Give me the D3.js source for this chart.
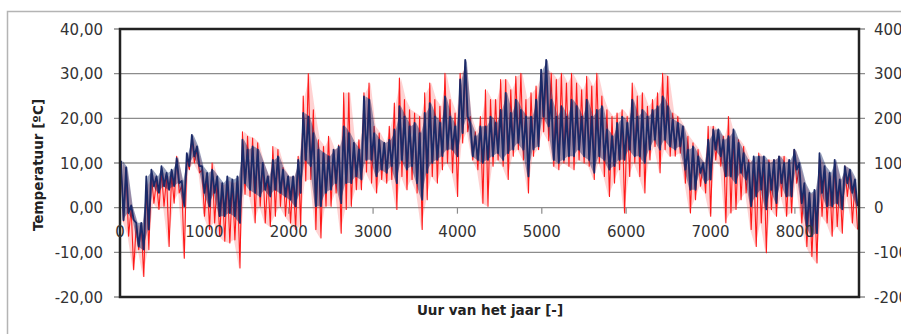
<!DOCTYPE html>
<html lang='nl'>
<head>
	<meta charset='utf-8'>
	<script type='text/javascript' src='https://d3js.org/d3.v7.min.js'></script>
	<style type='text/css'>
		body { margin:0; background:#fff; }
		.tick-label { font-family:'DejaVu Sans'; font-size:15px; fill:#333; }
		.axis-title { font-family:'DejaVu Sans'; font-weight:bold; font-size:13.5px; fill:#222; }
	</style>
</head>
<body>
	<div id='chart'></div>
	<script type='text/javascript'>
		// hours per reading bin; each bin holds the highest and lowest value
		var binHours = 60;

		// dark blue series (deg C), high / low per bin
		var navyHigh = [10.5,9,0.5,-3.4,-3.4,7,8.5,7,9.3,7.8,8.5,11.1,6,12.2,16.3,13.7,9.3,7.8,8.5,7,5.5,7,6.3,7,15.2,
			13,13.7,13,10,7,10.7,11.5,8.5,7,7,10.7,21.2,20.4,16.7,13,12.2,11.5,13,13.7,18.2,16.7,14.5,13,24.9,
			24.2,16.7,15.2,14.5,15.2,17.5,22.7,20.4,18.2,19,16.7,21.2,23.4,20.4,19,24.9,20.4,18.2,28.7,33.1,19,16,18.2,18.2,20.4,
			19,21.9,25.7,21.2,24.2,21.9,20.4,20.4,24.2,30.9,33.1,24.2,20.4,22.7,20.4,24.2,22.7,20.4,24.2,20.4,21.9,22.7,17.5,16,19,
			20.4,19,24.2,20.4,21.9,20.4,21.9,22.7,24.9,22.7,19.7,19,18.2,13,13.7,11.5,10,15.2,17.5,17.5,15.2,16,17.5,14.5,
			12.2,10,11.5,11.5,11.5,10,10.7,11.5,10,10.7,13,10,5.5,3.3,4,12.2,9.3,7.8,10.7,6.3,9.3,8.5,6.3];
		var navyLow = [-2.8,-1.2,-2.7,-8.7,-9.4,-4.9,4.8,3.3,4.8,4,4.8,5.5,0.3,9.3,11.5,9.3,3.3,0.3,3.3,-1.9,-1.9,-1.2,-1.9,-3.4,5.5,
			4,3.3,2.5,4,2.5,4,3.3,2.5,1.8,0.3,3.3,10.7,9.3,0.3,0.3,3.3,4,5.5,1,5.5,5.5,7,6.3,10.7,
			10.7,7,8.5,7.8,9.3,5.5,10.7,8.5,9.3,5.5,1.8,7.8,10,10.7,11.5,13,13,11.5,16.7,20.4,11.5,10.7,10,10.7,11.5,
			12.2,10.7,12.2,13,14.5,13,7,13,13.7,20.4,18.2,10.7,10,10.7,11.5,11.5,13,11.5,10.7,7.8,11.5,10.7,8.5,9.3,10.7,
			10.7,13,11.5,11.5,10,13,15.2,13,15.2,13.7,13,13.7,8.5,4,4,7.8,5.5,6.3,13,11.5,7,7,5.5,7.8,
			6.3,0.3,2.5,4,-0.4,4,1,5.5,2.5,2.5,8.5,1,-4.2,-6.4,-5.7,3.3,0.3,0.3,1,-0.4,5.5,3.3,0.3];

		// red series (deg C), high / low per bin
		var redHigh = [10,8,0,-4,-4,5,7.5,6,8,7,7.5,11.5,5,11,15.5,13,8.5,7,10,6,5,6,5.5,6,17,
			16,15.6,14.5,10,7,13.7,13,9,7,7,11.5,25,30,21.9,15.2,13.7,16,13,14,25.7,25.7,14.5,15.2,25.7,
			27.9,18.2,16.7,14.5,18.2,23.4,29,24.2,21.9,21.2,20.4,25.7,27.9,24.2,22.7,30.1,24.2,21.2,30.1,31.6,20.4,17,20.4,26.4,24.2,
			24.2,28.7,28.7,26.4,29.4,30.1,24.2,25.7,27.2,30.1,30.9,30.1,28.7,30.1,27.9,30.1,27.9,26.4,29.4,27.2,30.1,25,21.9,20.4,21.2,
			21.9,20.4,27.9,25,25.7,22.7,24.2,25.7,30.1,29.4,21.2,20.4,18.2,16,14.5,13,10,18.2,18.2,16.7,16,20.4,16,15.2,
			13.7,10.7,10,12.2,10.7,10.7,10.7,11.5,11.5,10,13,9,5,3,3.5,11,8.5,7,10,6,9.3,8,5.5];
		var redLow = [-3,-6.4,-13.9,-9.4,-15.4,-9.4,1,-0.4,0.3,-8.7,1,3.3,-11.3,8.5,10,7.8,-1.9,-4.9,-3.4,-6.4,-7.5,-7.9,-7.2,-13.5,3,
			2.5,-3.4,0.3,-3.4,-4.2,-1.9,0.3,-1.9,-3.4,-4.9,-4.2,6,6.3,-4.9,-6.8,0.3,0.3,3.3,-5.7,-0.4,0.3,4,4,8,
			5.5,3.3,6.3,5.5,6.3,-0.4,7,4,6.3,3.3,-4.9,1.8,7,5.5,8.5,10,7.8,2.5,14.5,17,10.7,8.5,1,0.3,9.3,
			10.7,9.3,6.3,11.5,13,10.7,3.3,11.5,13,17,15,9.3,8.5,10,9.3,8.5,10.7,10,9.3,6.3,10,7,2.5,5.5,8.5,
			-1.2,7,10,7,3.3,10.7,13.7,7.8,13,11.5,11.5,12.2,5.5,-1.2,1.8,4.8,3.3,-1.9,10.7,9.3,-3.4,-1.2,-0.4,1.8,
			3.3,-4.9,-8.7,-3.4,-10.1,-0.4,-1.9,2.5,-1.9,-1.2,5.5,-3.4,-8.7,-10.9,-12.4,-1.9,-3.4,-6.4,-4.2,-5.7,2.5,-3.4,-4.9];

		// axis ticks
		var xTicks = [0,1000,2000,3000,4000,5000,6000,7000,8000];
		var yTicks = [-20,-10,0,10,20,30,40];
		var yRightTicks = [-200,-100,0,100,200,300,400];

		var width = 901,
			height = 334;

		var plot = {left:120, right:859, top:29, bottom:297};

		var nl = d3.formatLocale({decimal:',', thousands:'.', grouping:[3], currency:['',''], minus:'-'});
		var formatLeft = nl.format('.2f');
		var formatRight = nl.format('d');

		var x = d3.scaleLinear().domain([0, 8760]).range([plot.left, plot.right]);
		var y = d3.scaleLinear().domain([-20, 40]).range([plot.bottom, plot.top]);
		var yRight = d3.scaleLinear().domain([-200, 400]).range([plot.bottom, plot.top]);

		var svg = d3.select('#chart')
			.append('svg')
			.attr('width', width)
			.attr('height', height);

		//outer frame
		svg.append('rect')
			.attr('x', 7.5).attr('y', 11.5)
			.attr('width', 900).attr('height', 330)
			.style('fill', 'none')
			.style('stroke', '#b4b4b4')
			.style('stroke-width', 1.5);

		//gridlines with tick extensions on both sides
		svg.selectAll('.grid')
			.data(yTicks)
			.enter()
			.append('line')
			.attr('class', 'grid')
			.attr('x1', plot.left - 6)
			.attr('x2', plot.right + 6)
			.attr('y1', function(d){ return y(d); })
			.attr('y2', function(d){ return y(d); })
			.style('stroke', '#8c8c8c')
			.style('stroke-width', 1.4);

		//x ticks on the zero line
		svg.selectAll('.xtick')
			.data(xTicks)
			.enter()
			.append('line')
			.attr('class', 'xtick')
			.attr('x1', function(d){ return x(d); })
			.attr('x2', function(d){ return x(d); })
			.attr('y1', y(0))
			.attr('y2', y(0) + 6)
			.style('stroke', '#8c8c8c')
			.style('stroke-width', 1.2);

		//jagged line: high then low inside each bin
		function points(high, low){
			var pts = [];
			high.forEach(function(h, i){
				pts.push([i * binHours + 12, h]);
				pts.push([i * binHours + 42, low[i]]);
			});
			return pts;
		}

		//band between the low and high of each bin, drawn at the bin centre
		function band(high, low){
			return high.map(function(h, i){ return [i * binHours + binHours / 2, low[i], h]; });
		}

		var line = d3.line()
			.x(function(d){ return x(d[0]); })
			.y(function(d){ return y(d[1]); });

		var area = d3.area()
			.x(function(d){ return x(d[0]); })
			.y0(function(d){ return y(d[1]); })
			.y1(function(d){ return y(d[2]); });

		//red series
		svg.append('path')
			.attr('d', area(band(redHigh, redLow)))
			.style('fill', '#ff3030')
			.style('fill-opacity', 0.22);

		svg.append('path')
			.attr('d', line(points(redHigh, redLow)))
			.style('fill', 'none')
			.style('stroke', '#ff1a1a')
			.style('stroke-width', 1.1)
			.style('stroke-linejoin', 'round');

		//dark blue series
		svg.append('path')
			.attr('d', area(band(navyHigh, navyLow)))
			.style('fill', '#1b2a68')
			.style('fill-opacity', 0.45);

		svg.append('path')
			.attr('d', line(points(navyHigh, navyLow)))
			.style('fill', 'none')
			.style('stroke', '#1b2a68')
			.style('stroke-width', 1.8)
			.style('stroke-linejoin', 'round');

		//plot border
		svg.append('rect')
			.attr('x', plot.left).attr('y', plot.top)
			.attr('width', plot.right - plot.left)
			.attr('height', plot.bottom - plot.top)
			.style('fill', 'none')
			.style('stroke', '#222')
			.style('stroke-width', 2.5);

		//tick labels
		svg.selectAll('.xlabel')
			.data(xTicks)
			.enter()
			.append('text')
			.attr('class', 'tick-label')
			.attr('x', function(d){ return x(d); })
			.attr('y', 237)
			.attr('text-anchor', 'middle')
			.text(function(d){ return d; });

		svg.selectAll('.ylabel')
			.data(yTicks)
			.enter()
			.append('text')
			.attr('class', 'tick-label')
			.attr('x', 103)
			.attr('y', function(d){ return y(d) + 5.5; })
			.attr('text-anchor', 'end')
			.text(function(d){ return formatLeft(d); });

		svg.selectAll('.yrlabel')
			.data(yRightTicks)
			.enter()
			.append('text')
			.attr('class', 'tick-label')
			.attr('x', 874)
			.attr('y', function(d){ return yRight(d) + 5.5; })
			.text(function(d){ return formatRight(d); });

		//axis titles
		svg.append('text')
			.attr('class', 'axis-title')
			.attr('transform', 'translate(43,165) rotate(-90)')
			.attr('text-anchor', 'middle')
			.text('Temperatuur [ºC]');

		svg.append('text')
			.attr('class', 'axis-title')
			.attr('x', 490)
			.attr('y', 315)
			.attr('text-anchor', 'middle')
			.text('Uur van het jaar [-]');
	</script>
</body>
</html>
